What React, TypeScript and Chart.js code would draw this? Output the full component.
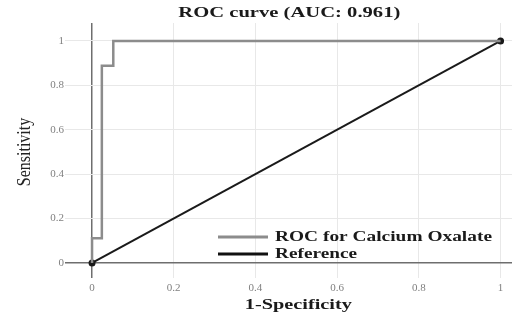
import React, { useEffect, useRef } from "react";
import { Chart, registerables } from "chart.js";

Chart.register(...registerables);

const rocFpr = [0, 0, 0.024, 0.024, 0.052, 0.052, 1];
const rocTpr = [0, 0.111, 0.111, 0.889, 0.889, 1, 1];
const refFpr = [0, 1];
const refTpr = [0, 1];
const tickValues = [0, 0.2, 0.4, 0.6, 0.8, 1];
const titleText = "ROC curve (AUC: 0.961)";
const xTitle = "1-Specificity";
const yTitle = "Sensitivity";
const rocLabel = "ROC for Calcium Oxalate";
const refLabel = "Reference";

const SERIF = '"Liberation Serif", "DejaVu Serif", serif';

function drawStretched(ctx: CanvasRenderingContext2D, text: string, cx: number, cy: number, font: string, targetW: number, color: string, align: "center" | "left" = "center") {
  ctx.save();
  ctx.font = font;
  ctx.fillStyle = color;
  ctx.textBaseline = "middle";
  const w = ctx.measureText(text).width;
  const sx = targetW / w;
  ctx.translate(cx, cy);
  ctx.scale(sx, 1);
  ctx.textAlign = align;
  ctx.fillText(text, 0, 0);
  ctx.restore();
}

const textPlugin = {
  id: "texts",
  afterDraw(chart: any) {
    const ctx: CanvasRenderingContext2D = chart.ctx;
    const xs = chart.scales.x;
    const ys = chart.scales.y;
    const x0 = xs.getPixelForValue(0);
    const x1 = xs.getPixelForValue(1);
    const y0 = ys.getPixelForValue(0);
    const y1 = ys.getPixelForValue(1);
    drawStretched(ctx, titleText, (x0 + x1) / 2 - 7, 13, `bold 15px ${SERIF}`, 222, "#1a1a1a");
    drawStretched(ctx, xTitle, (x0 + x1) / 2 + 2, 305, `bold 15px ${SERIF}`, 107, "#1a1a1a");
    ctx.save();
    ctx.translate(25, (y0 + y1) / 2);
    ctx.rotate(-Math.PI / 2);
    ctx.font = `16px ${SERIF}`;
    ctx.fillStyle = "#222";
    ctx.textAlign = "center";
    ctx.textBaseline = "middle";
    ctx.scale(1, 1.15);
    ctx.fillText(yTitle, 0, 0);
    ctx.restore();
    // legend
    const lx = 218, lw = 50;
    const rows = [
      { label: rocLabel, color: "#8c8c8c", y: 237, w: 217 },
      { label: refLabel, color: "#111", y: 254, w: 82 },
    ];
    rows.forEach((r) => {
      ctx.save();
      ctx.strokeStyle = r.color;
      ctx.lineWidth = 3;
      ctx.beginPath();
      ctx.moveTo(lx, r.y);
      ctx.lineTo(lx + lw, r.y);
      ctx.stroke();
      ctx.restore();
      drawStretched(ctx, r.label, 275, r.y, `bold 15px ${SERIF}`, r.w, "#1a1a1a", "left");
    });
  },
};

export default function App() {
  const ref = useRef<HTMLCanvasElement>(null);
  useEffect(() => {
    document.body.style.margin = "0";
    const chart = new Chart(ref.current!, {
      type: "scatter",
      data: {
        datasets: [
          {
            label: rocLabel,
            data: rocFpr.map((x, i) => ({ x, y: rocTpr[i] })),
            showLine: true,
            borderColor: "#8c8c8c",
            borderWidth: 2.5,
            pointRadius: 0,
            fill: false,
          },
          {
            label: refLabel,
            data: refFpr.map((x, i) => ({ x, y: refTpr[i] })),
            showLine: true,
            borderColor: "#1a1a1a",
            backgroundColor: "#1a1a1a",
            borderWidth: 2,
            pointRadius: 2.5,
            fill: false,
          },
        ],
      },
      options: {
        animation: false,
        responsive: false,
        layout: { padding: { top: 23, right: 1, left: 0, bottom: 0 } },
        plugins: { legend: { display: false }, title: { display: false }, tooltip: { enabled: false } },
        scales: {
          x: {
            type: "linear",
            min: -0.0662,
            max: 1.028,
            afterBuildTicks: (s: any) => { s.ticks = tickValues.map((v) => ({ value: v })); },
            afterFit: (s: any) => { s.height = 42; },
            border: { display: false },
            grid: {
              drawTicks: false,
              color: (c: any) => (c.tick && c.tick.value === 0 ? "#6e6e6e" : "#e8e8e8"),
              lineWidth: (c: any) => (c.tick && c.tick.value === 0 ? 1.5 : 1),
            },
            ticks: {
              padding: 4,
              color: "#808080",
              font: { family: SERIF, size: 11 },
              callback: (v: any) => String(Number(Number(v).toFixed(1))),
            },
          },
          y: {
            type: "linear",
            min: -0.0676,
            max: 1.081,
            afterBuildTicks: (s: any) => { s.ticks = tickValues.map((v) => ({ value: v })); },
            afterFit: (s: any) => { s.width = 65; },
            border: { display: false },
            grid: {
              drawTicks: false,
              color: (c: any) => (c.tick && c.tick.value === 0 ? "#6e6e6e" : "#e8e8e8"),
              lineWidth: (c: any) => (c.tick && c.tick.value === 0 ? 1.5 : 1),
            },
            ticks: {
              padding: 1,
              color: "#808080",
              font: { family: SERIF, size: 11 },
              callback: (v: any) => String(Number(Number(v).toFixed(1))),
            },
          },
        },
      },
      plugins: [textPlugin],
    });
    return () => chart.destroy();
  }, []);
  return <canvas ref={ref} width={518} height={320} style={{ display: "block" }} />;
}
